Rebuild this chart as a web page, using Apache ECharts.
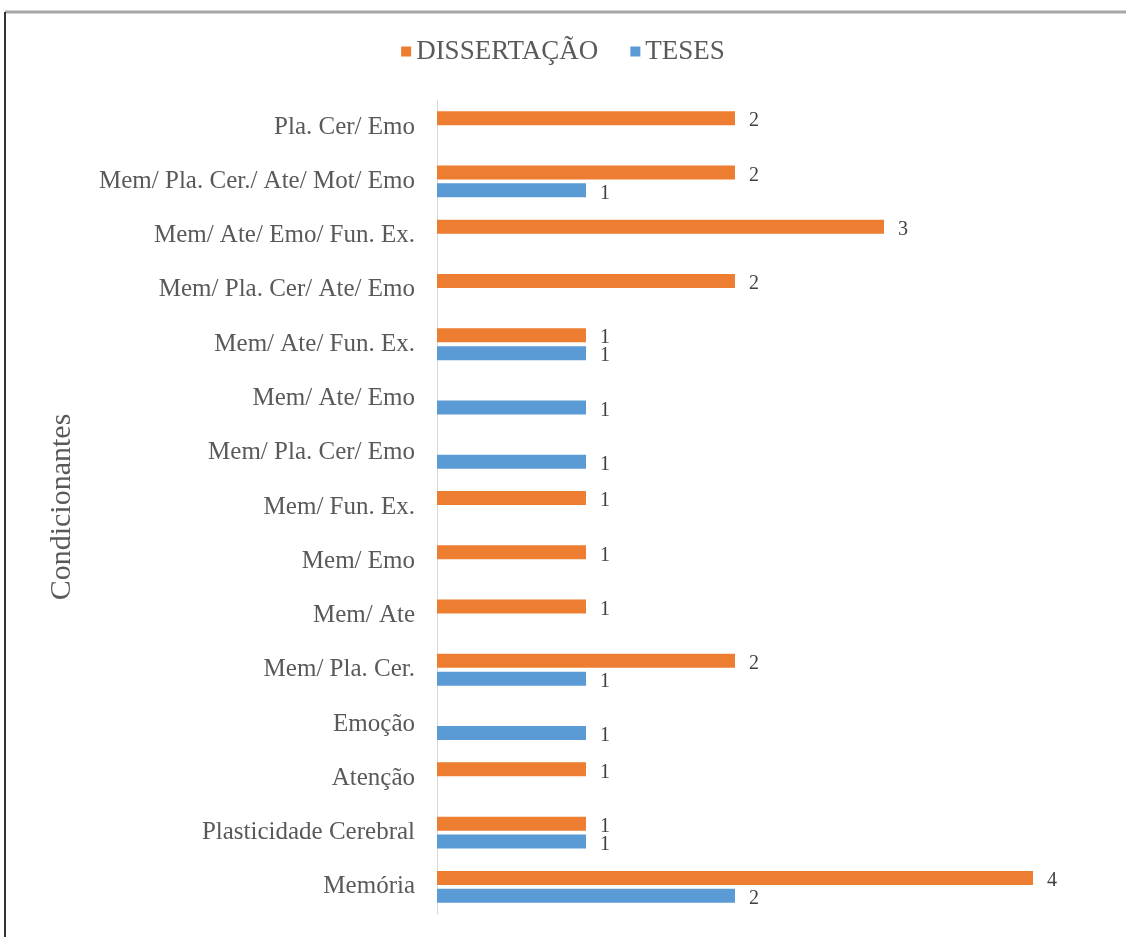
<!DOCTYPE html>
<html>
<head>
<meta charset="utf-8">
<script src="https://cdn.jsdelivr.net/npm/echarts@6/dist/echarts.min.js"></script>
<style>html,body{margin:0;padding:0;background:#fff}#c{width:1126px;height:937px}</style>
</head>
<body>
<div id="c"></div>
<script>
const categories = ['Memória','Plasticidade Cerebral','Atenção','Emoção','Mem/ Pla. Cer.','Mem/ Ate','Mem/ Emo','Mem/ Fun. Ex.','Mem/ Pla. Cer/ Emo','Mem/ Ate/ Emo','Mem/ Ate/ Fun. Ex.','Mem/ Pla. Cer/ Ate/ Emo','Mem/ Ate/ Emo/ Fun. Ex.','Mem/ Pla. Cer./ Ate/ Mot/ Emo','Pla. Cer/ Emo'];
const dissertacao = [4,1,1,null,2,1,1,1,null,null,1,2,3,2,2];
const teses = [2,1,null,1,1,null,null,null,1,1,1,null,null,1,null];
const seriesNames = ['DISSERTAÇÃO','TESES'];
const axisTitle = 'Condicionantes';

const font = '"Liberation Serif", "Times New Roman", serif';
const chart = echarts.init(document.getElementById('c'));
const lbl = {show:true, position:'right', distance:14, offset:[0,3], color:'#404040', fontFamily:font, fontSize:20};
chart.setOption({
  animation:false,
  graphic:[
    {type:'line', shape:{x1:5,y1:12,x2:1126,y2:12}, style:{stroke:'#a6a6a6', lineWidth:3}},
    {type:'line', shape:{x1:5,y1:12,x2:5,y2:937}, style:{stroke:'#333', lineWidth:2}}
  ],
  legend:{
    data:seriesNames, top:33, left:'center', itemWidth:10, itemHeight:10, itemGap:32, icon:'rect',
    textStyle:{fontFamily:font, fontSize:27, color:'#595959'}
  },
  grid:{left:437, right:93, top:100, bottom:23},
  xAxis:{type:'value', min:0, max:4, interval:1, show:false, splitLine:{show:false}},
  yAxis:{
    type:'category', data:categories,
    name:axisTitle, nameLocation:'middle', nameGap:360, nameRotate:90,
    nameTextStyle:{fontFamily:font, fontSize:30, color:'#595959'},
    axisTick:{show:false},
    axisLine:{lineStyle:{color:'#d9d9d9', width:1}},
    axisLabel:{fontFamily:font, fontSize:25, color:'#595959', margin:22}
  },
  series:[
    {name:'DISSERTAÇÃO', type:'bar', data:dissertacao, barWidth:14, barGap:'28%', itemStyle:{color:'#ED7D31'}, label:lbl},
    {name:'TESES', type:'bar', data:teses, barWidth:14, barGap:'28%', itemStyle:{color:'#5B9BD5'}, label:lbl}
  ]
});
</script>
</body>
</html>
